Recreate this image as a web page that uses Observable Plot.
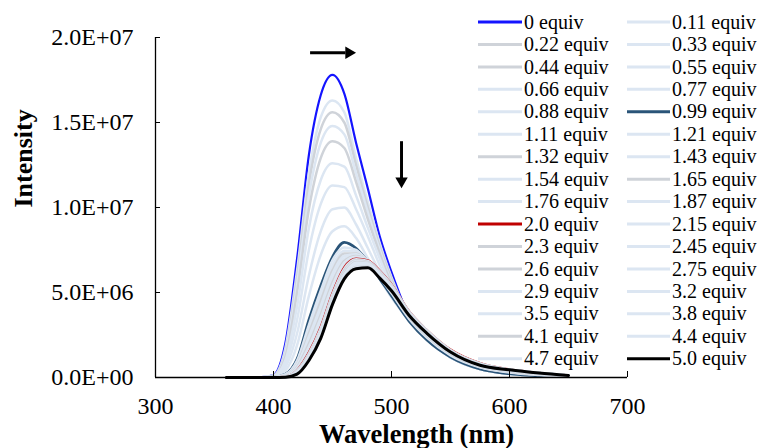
<!DOCTYPE html>
<html><head><meta charset="utf-8">
<script src="https://cdn.jsdelivr.net/npm/d3@7"></script>
<script src="https://cdn.jsdelivr.net/npm/@observablehq/plot@0.6"></script>
<style>
body{margin:0;background:#fff}
#chart{position:relative;width:758px;height:448px}
</style>
</head><body><div id="chart"></div>
<script>
// Wavelength grid (nm) shared by all spectra
const wavelengths = [360, 390, 400, 410, 420, 430, 440, 450, 460, 470, 480, 490, 500, 515, 530, 550, 575, 600, 625, 650];
// Intensity values in units of 1E+06, one array per titration point
const eq_0_00 = [0, 0.02, 0.15, 2.0, 7.0, 13.1, 16.6, 17.8, 16.7, 13.8, 11.1, 8.3, 6.2, 3.6, 2.35, 1.2, 0.5, 0.22, 0.1, 0.04];
const eq_0_11 = [0, 0.02, 0.12, 1.7, 6.3, 12.0, 15.3, 16.3, 15.6, 12.9, 10.3, 7.9, 5.9, 3.6, 2.35, 1.2, 0.5, 0.22, 0.1, 0.04];
const eq_0_22 = [0, 0.02, 0.1, 1.5, 5.9, 11.4, 14.6, 15.6, 15.0, 12.5, 10.0, 7.7, 5.8, 3.6, 2.35, 1.2, 0.5, 0.22, 0.1, 0.04];
const eq_0_33 = [0, 0.02, 0.1, 1.4, 5.5, 10.7, 13.8, 14.8, 14.3, 12.0, 9.7, 7.5, 5.6, 3.55, 2.35, 1.2, 0.5, 0.22, 0.1, 0.04];
const eq_0_44 = [0, 0.02, 0.08, 1.2, 5.0, 9.9, 12.9, 13.9, 13.5, 11.5, 9.3, 7.3, 5.5, 3.55, 2.35, 1.2, 0.5, 0.22, 0.1, 0.04];
const eq_0_55 = [0, 0.01, 0.07, 1.0, 4.2, 8.8, 11.6, 12.6, 12.4, 10.7, 8.8, 7.0, 5.3, 3.5, 2.3, 1.2, 0.5, 0.22, 0.1, 0.04];
const eq_0_66 = [0, 0.01, 0.05, 0.8, 3.4, 7.5, 10.2, 11.3, 11.2, 9.9, 8.3, 6.6, 5.1, 3.45, 2.3, 1.2, 0.5, 0.22, 0.1, 0.04];
const eq_0_77 = [0, 0.01, 0.04, 0.6, 2.6, 6.0, 8.6, 9.9, 10.0, 9.0, 7.6, 6.2, 4.9, 3.4, 2.25, 1.2, 0.5, 0.22, 0.1, 0.04];
const eq_0_88 = [0, 0.01, 0.03, 0.4, 1.9, 4.8, 7.2, 8.6, 8.9, 8.2, 7.0, 5.8, 4.7, 3.35, 2.25, 1.2, 0.5, 0.22, 0.1, 0.04];
const eq_0_99 = [0, 0, 0.02, 0.2, 1.1, 3.4, 5.4, 7.1, 7.95, 7.6, 6.8, 5.8, 4.8, 3.3, 2.2, 1.2, 0.5, 0.22, 0.1, 0.04];
const eq_1_11 = [0, 0, 0.02, 0.18, 1.0, 3.1, 5.1, 6.9, 7.65, 7.5, 6.8, 5.9, 4.95, 3.45, 2.35, 1.3, 0.6, 0.3, 0.15, 0.06];
const eq_1_21 = [0, 0, 0.02, 0.16, 0.9, 2.8, 4.8, 6.6, 7.45, 7.4, 6.8, 5.95, 5.0, 3.5, 2.4, 1.35, 0.62, 0.32, 0.16, 0.07];
const eq_1_32 = [0, 0, 0.02, 0.14, 0.8, 2.6, 4.5, 6.3, 7.3, 7.3, 6.8, 6.0, 5.05, 3.55, 2.45, 1.4, 0.65, 0.34, 0.17, 0.07];
const eq_1_43 = [0, 0, 0.01, 0.12, 0.75, 2.4, 4.2, 6.1, 7.15, 7.25, 6.8, 6.05, 5.1, 3.6, 2.5, 1.45, 0.68, 0.36, 0.18, 0.08];
const eq_1_54 = [0, 0, 0.01, 0.1, 0.7, 2.2, 4.0, 5.9, 7.0, 7.2, 6.85, 6.1, 5.2, 3.7, 2.55, 1.5, 0.7, 0.38, 0.19, 0.08];
const eq_1_65 = [0, 0, 0.01, 0.09, 0.62, 2.0, 3.7, 5.6, 6.85, 7.15, 6.85, 6.15, 5.3, 3.75, 2.6, 1.52, 0.75, 0.4, 0.2, 0.09];
const eq_1_76 = [0, 0, 0.01, 0.08, 0.55, 1.8, 3.5, 5.4, 6.75, 7.1, 6.9, 6.2, 5.35, 3.8, 2.7, 1.55, 0.78, 0.42, 0.22, 0.1];
const eq_1_87 = [0, 0, 0.01, 0.07, 0.5, 1.65, 3.2, 5.2, 6.6, 7.05, 6.9, 6.25, 5.4, 3.85, 2.75, 1.6, 0.82, 0.45, 0.24, 0.11];
const eq_2_00 = [0, 0, 0.01, 0.06, 0.45, 1.5, 3.0, 5.0, 6.5, 7.0, 6.9, 6.3, 5.5, 3.9, 2.8, 1.65, 0.85, 0.48, 0.28, 0.13];
const eq_2_15 = [0, 0, 0, 0.05, 0.42, 1.42, 2.9, 4.9, 6.4, 6.95, 6.85, 6.25, 5.45, 3.88, 2.78, 1.62, 0.83, 0.47, 0.27, 0.12];
const eq_2_30 = [0, 0, 0, 0.05, 0.4, 1.38, 2.8, 4.8, 6.3, 6.9, 6.8, 6.2, 5.4, 3.85, 2.75, 1.6, 0.82, 0.46, 0.27, 0.12];
const eq_2_45 = [0, 0, 0, 0.04, 0.37, 1.32, 2.72, 4.7, 6.2, 6.85, 6.75, 6.15, 5.35, 3.82, 2.72, 1.58, 0.8, 0.46, 0.26, 0.12];
const eq_2_60 = [0, 0, 0, 0.04, 0.35, 1.28, 2.65, 4.62, 6.12, 6.8, 6.72, 6.12, 5.3, 3.8, 2.7, 1.56, 0.79, 0.45, 0.26, 0.12];
const eq_2_75 = [0, 0, 0, 0.04, 0.33, 1.24, 2.6, 4.55, 6.05, 6.75, 6.7, 6.08, 5.27, 3.77, 2.68, 1.55, 0.78, 0.45, 0.26, 0.12];
const eq_2_90 = [0, 0, 0, 0.03, 0.31, 1.2, 2.55, 4.5, 6.0, 6.7, 6.67, 6.05, 5.25, 3.75, 2.66, 1.54, 0.77, 0.45, 0.26, 0.12];
const eq_3_20 = [0, 0, 0, 0.03, 0.29, 1.16, 2.5, 4.45, 5.95, 6.65, 6.63, 6.0, 5.22, 3.72, 2.64, 1.52, 0.76, 0.45, 0.26, 0.12];
const eq_3_50 = [0, 0, 0, 0.03, 0.27, 1.12, 2.45, 4.4, 5.9, 6.6, 6.6, 5.97, 5.2, 3.7, 2.63, 1.51, 0.75, 0.45, 0.26, 0.12];
const eq_3_80 = [0, 0, 0, 0.02, 0.25, 1.08, 2.4, 4.38, 5.87, 6.55, 6.55, 5.93, 5.17, 3.68, 2.62, 1.5, 0.74, 0.45, 0.26, 0.12];
const eq_4_10 = [0, 0, 0, 0.02, 0.23, 1.05, 2.36, 4.35, 5.85, 6.5, 6.52, 5.9, 5.15, 3.67, 2.61, 1.5, 0.73, 0.45, 0.26, 0.12];
const eq_4_40 = [0, 0, 0, 0.02, 0.22, 1.03, 2.33, 4.32, 5.83, 6.47, 6.5, 5.88, 5.13, 3.66, 2.6, 1.5, 0.72, 0.45, 0.26, 0.12];
const eq_4_70 = [0, 0, 0, 0.02, 0.21, 1.01, 2.31, 4.3, 5.81, 6.44, 6.47, 5.86, 5.11, 3.65, 2.6, 1.5, 0.72, 0.45, 0.26, 0.12];
const eq_5_00 = [0, 0, 0, 0.02, 0.2, 1.0, 2.3, 4.3, 5.8, 6.4, 6.45, 5.85, 5.1, 3.65, 2.6, 1.5, 0.72, 0.45, 0.26, 0.12];

const seriesLabels = ["0 equiv","0.11 equiv","0.22 equiv","0.33 equiv","0.44 equiv","0.55 equiv","0.66 equiv","0.77 equiv","0.88 equiv","0.99 equiv","1.11 equiv","1.21 equiv","1.32 equiv","1.43 equiv","1.54 equiv","1.65 equiv","1.76 equiv","1.87 equiv","2.0 equiv","2.15 equiv","2.3 equiv","2.45 equiv","2.6 equiv","2.75 equiv","2.9 equiv","3.2 equiv","3.5 equiv","3.8 equiv","4.1 equiv","4.4 equiv","4.7 equiv","5.0 equiv"];
const seriesValues = [eq_0_00,eq_0_11,eq_0_22,eq_0_33,eq_0_44,eq_0_55,eq_0_66,eq_0_77,eq_0_88,eq_0_99,eq_1_11,eq_1_21,eq_1_32,eq_1_43,eq_1_54,eq_1_65,eq_1_76,eq_1_87,eq_2_00,eq_2_15,eq_2_30,eq_2_45,eq_2_60,eq_2_75,eq_2_90,eq_3_20,eq_3_50,eq_3_80,eq_4_10,eq_4_40,eq_4_70,eq_5_00];

const xTicks = [300, 400, 500, 600, 700];
const yTicks = [0, 5, 10, 15, 20]; // ×1E+06

// annotation arrows (data units)
const arrowShift = [{x1: 431, x2: 469, y1: 19.1, y2: 19.1, rot: 90}];
const arrowDrop = [{x1: 508.5, x2: 508.5, y1: 13.9, y2: 11.2, rot: 180}];

// styles
const LIGHT = "#dce6f2", GRAY = "#cfd3d9";
const styleOf = {
  "0 equiv": {c: "#1414ff", w: 2.2},
  "0.99 equiv": {c: "#2a5478", w: 2.6},
  "2.0 equiv": {c: "#c00000", w: 2},
  "5.0 equiv": {c: "#000000", w: 3},
  "0.22 equiv": {c: GRAY}, "0.44 equiv": {c: GRAY}, "1.32 equiv": {c: GRAY},
  "1.65 equiv": {c: GRAY}, "2.3 equiv": {c: GRAY}, "2.6 equiv": {c: GRAY}, "4.1 equiv": {c: GRAY}
};
const colorOf = l => (styleOf[l] && styleOf[l].c) || LIGHT;
const widthOf = l => (styleOf[l] && styleOf[l].w) || 2.5;

const rows = [];
seriesLabels.forEach((lab, i) => {
  seriesValues[i].forEach((v, j) => rows.push({series: lab, order: i, wl: wavelengths[j], I: v}));
});

function sci(d) {
  const s = (d * 1e6).toExponential(1); // e.g. "2.0e+7"
  const [m, e] = s.split("e");
  const sign = e[0] === "-" ? "-" : "+";
  const ex = e.replace(/^[+-]/, "").padStart(2, "0");
  return m + "E" + sign + ex;
}

const marks = [];
seriesLabels.forEach(lab => {
  marks.push(Plot.line(rows.filter(r => r.series === lab), {
    x: "wl", y: "I", stroke: colorOf(lab), strokeWidth: widthOf(lab), curve: "monotone-x"
  }));
});

const plot = Plot.plot({
  width: 758, height: 448,
  marginLeft: 155, marginRight: 131, marginTop: 37, marginBottom: 71,
  style: {fontFamily: "'Liberation Serif','Times New Roman',serif", fontSize: "24px", color: "#000", background: "#fff", overflow: "visible"},
  x: {domain: [300, 700]},
  y: {domain: [0, 20]},
  marks: [
    ...marks,
    Plot.ruleY([0], {stroke: "#000", strokeWidth: 1.3}),
    Plot.ruleX([300], {stroke: "#000", strokeWidth: 1.3}),
    Plot.axisX({ticks: xTicks, tickSize: -6, tickPadding: 25, tickFormat: d => String(d), label: null, stroke: "#000"}),
    Plot.axisY({ticks: yTicks, tickSize: -5, tickPadding: 27, tickFormat: sci, label: null, stroke: "#000"}),
    Plot.link(arrowShift, {x1: "x1", x2: d => d.x2 - 8, y1: "y1", y2: "y2", stroke: "#000", strokeWidth: 3}),
    Plot.dot(arrowShift, {x: "x2", y: "y2", symbol: "triangle", r: 4.6, fill: "#000", rotate: "rot", dx: -6}),
    Plot.link(arrowDrop, {x1: "x1", x2: "x2", y1: "y1", y2: d => d.y2 + 0.5, stroke: "#000", strokeWidth: 3}),
    Plot.dot(arrowDrop, {x: "x2", y: "y2", symbol: "triangle", r: 4.6, fill: "#000", rotate: "rot", dy: -6}),
    Plot.text(["Intensity"], {frameAnchor: "left", dx: -132, rotate: -90, fontWeight: "bold", fontSize: 26, fill: "#000"}),
    Plot.text(["Wavelength (nm)"], {frameAnchor: "bottom", dx: 25, dy: 65, fontWeight: "bold", fontSize: 26.5, fill: "#000"})
  ]
});

document.getElementById("chart").appendChild(plot);

// Legend (two columns, overlaid on the plot, no background)
const svg = d3.select(plot);
const lg = svg.append("g").attr("font-family", "'Liberation Serif','Times New Roman',serif").attr("font-size", 20).attr("text-anchor", "start");
const colX = [{x0: 478, x1: 522, tx: 524}, {x0: 627, x1: 670, tx: 672}];
seriesLabels.forEach((lab, i) => {
  const col = colX[i % 2];
  const row = Math.floor(i / 2);
  const y = 22 + row * 22.45;
  lg.append("line").attr("x1", col.x0).attr("x2", col.x1).attr("y1", y).attr("y2", y)
    .attr("stroke", colorOf(lab)).attr("stroke-width", lab === "5.0 equiv" ? 3.2 : 3);
  lg.append("text").attr("x", col.tx).attr("y", y).attr("dy", "0.33em").attr("text-anchor", "start").attr("fill", "#000").text(lab);
});
</script>
</body></html>
